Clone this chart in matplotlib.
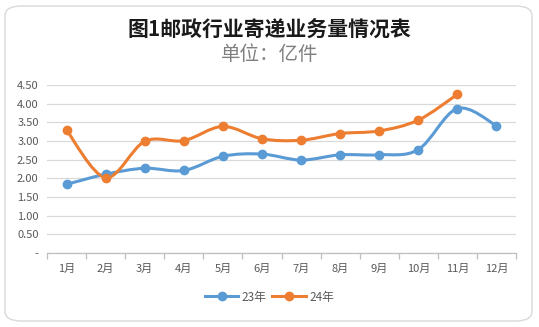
import numpy as np
import matplotlib
matplotlib.use('Agg')
import matplotlib.pyplot as plt
from matplotlib.path import Path
from matplotlib.patches import PathPatch, FancyBboxPatch
from matplotlib.lines import Line2D

plt.rcParams['font.family'] = ['Noto Sans CJK SC', 'DejaVu Sans']

# data
months = ['1月', '2月', '3月', '4月', '5月', '6月', '7月', '8月', '9月', '10月', '11月', '12月']
vol_23 = [1.84, 2.11, 2.27, 2.21, 2.59, 2.65, 2.49, 2.63, 2.63, 2.77, 3.87, 3.41]
vol_24 = [3.29, 2.02, 2.99, 3.01, 3.39, 3.06, 3.02, 3.20, 3.27, 3.56, 4.25]
series_names = ['23年', '24年']
y_ticks = [0, 0.5, 1.0, 1.5, 2.0, 2.5, 3.0, 3.5, 4.0, 4.5]

blue = '#5B9BD5'
orange = '#ED7D31'
grey_txt = '#595959'


def smooth_path(xs, ys):
    # Catmull-Rom style bezier, similar to Excel's smoothed line
    pts = np.column_stack([xs, ys])
    verts = [pts[0]]
    codes = [Path.MOVETO]
    n = len(pts)
    for i in range(n - 1):
        p0 = pts[i - 1] if i > 0 else pts[i]
        p1 = pts[i]
        p2 = pts[i + 1]
        p3 = pts[i + 2] if i + 2 < n else pts[i + 1]
        c1 = p1 + (p2 - p0) / 6.0
        c2 = p2 - (p3 - p1) / 6.0
        verts += [c1, c2, p2]
        codes += [Path.CURVE4] * 3
    return Path(verts, codes)


fig = plt.figure(figsize=(5.39, 3.27), dpi=100)

# rounded chart border
border = FancyBboxPatch((5 / 539, 6 / 327), 527 / 539, 315 / 327,
                        boxstyle='round,pad=0,rounding_size=0.03',
                        transform=fig.transFigure, facecolor='white',
                        edgecolor='#D9D9D9', linewidth=1.0, zorder=-5)
fig.patches.append(border)

ax = fig.add_axes([47 / 539, 1 - 253 / 327, (516 - 47) / 539, (253 - 85) / 327])
ax.set_facecolor('none')
ax.set_zorder(2)

x = np.arange(len(months))
for vals, col in [(vol_23, blue), (vol_24, orange)]:
    xi = x[:len(vals)]
    ax.add_patch(PathPatch(smooth_path(xi, vals), facecolor='none',
                           edgecolor=col, linewidth=2.2, capstyle='round',
                           joinstyle='round', zorder=3))
    ax.plot(xi, vals, linestyle='none', marker='o', markersize=6,
            color=col, zorder=4)

ax.set_xlim(-0.5, len(months) - 0.5)
ax.set_ylim(0, 4.5)
ax.set_yticks(y_ticks)
ax.set_yticklabels(['-'] + ['%.2f' % v for v in y_ticks[1:]])
ax.set_xticks(x)
ax.set_xticklabels(months)
ax.set_xticks(np.arange(-0.5, len(months)), minor=True)

ax.grid(axis='y', color='#D9D9D9', linewidth=0.9)
ax.set_axisbelow(True)
for s in ['top', 'right', 'left']:
    ax.spines[s].set_visible(False)
ax.spines['bottom'].set_color('#BFBFBF')
ax.spines['bottom'].set_linewidth(0.9)

ax.tick_params(axis='y', length=0, labelsize=8, labelcolor=grey_txt, pad=6)
ax.tick_params(axis='x', which='major', length=0, labelsize=8,
               labelcolor=grey_txt, pad=8)
ax.tick_params(axis='x', which='minor', length=4, color='#BFBFBF', width=0.9)

fig.text(0.5, 1 - 29 / 327, '图1邮政行业寄递业务量情况表', ha='center', va='center',
         fontsize=15, fontweight='bold', color='#1A1A1A')
fig.text(0.5, 1 - 55 / 327, '单位：亿件', ha='center', va='center',
         fontsize=14, color='#7F7F7F')

handles = [Line2D([0], [0], color=c, linewidth=2.2, marker='o', markersize=6)
           for c in (blue, orange)]
fig.legend(handles, series_names, loc='center', bbox_to_anchor=(0.5, 1 - 297 / 327),
           ncol=2, frameon=False, fontsize=8.5, handlelength=2.8,
           handletextpad=0.3, columnspacing=0.5, labelcolor=grey_txt)

fig.savefig('out.png', dpi=100)
